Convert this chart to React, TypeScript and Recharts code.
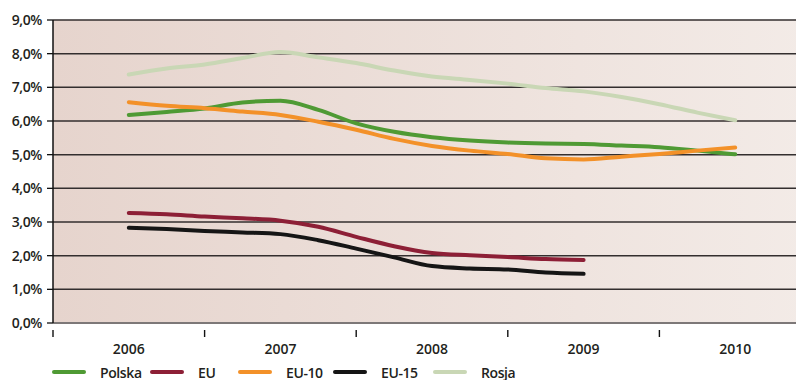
import React from "react";
import {
  LineChart,
  Line,
  XAxis,
  YAxis,
  CartesianGrid,
} from "recharts";

// quarterly readings, 2006 Q1 .. 2010 Q1
const quarters = [
  2006, 2006.25, 2006.5, 2006.75, 2007, 2007.25, 2007.5, 2007.75, 2008,
  2008.25, 2008.5, 2008.75, 2009, 2009.25, 2009.5, 2009.75, 2010,
];

const polska = [
  6.18, 6.27, 6.37, 6.55, 6.6, 6.33, 5.93, 5.68, 5.52, 5.42, 5.36, 5.33, 5.32,
  5.27, 5.22, 5.12, 5.01,
];
const eu = [
  3.27, 3.23, 3.16, 3.11, 3.04, 2.86, 2.56, 2.28, 2.08, 2.01, 1.96, 1.9, 1.87,
  null, null, null, null,
];
const eu10 = [
  6.56, 6.45, 6.38, 6.28, 6.18, 5.98, 5.74, 5.47, 5.26, 5.12, 5.02, 4.89, 4.86,
  4.94, 5.02, 5.12, 5.21,
];
const eu15 = [
  2.83, 2.79, 2.73, 2.69, 2.64, 2.46, 2.21, 1.95, 1.69, 1.62, 1.59, 1.5, 1.46,
  null, null, null, null,
];
const rosja = [
  7.38, 7.56, 7.68, 7.87, 8.05, 7.89, 7.72, 7.5, 7.32, 7.22, 7.11, 6.98, 6.88,
  6.71, 6.5, 6.25, 6.02,
];

const yearLabels = [2006, 2007, 2008, 2009, 2010];
const yTicks = [0, 1, 2, 3, 4, 5, 6, 7, 8, 9];

const SERIES = [
  { key: "polska", name: "Polska", color: "#4f9a34" },
  { key: "eu", name: "EU", color: "#8d1f36" },
  { key: "eu10", name: "EU-10", color: "#f39129" },
  { key: "eu15", name: "EU-15", color: "#151515" },
  { key: "rosja", name: "Rosja", color: "#c9d7b5" },
];

const FONT = "'Open Sans', 'DejaVu Sans Condensed', sans-serif";
const TEXT = "#231f20";
const FONT_SIZE = 14;
const FONT_WEIGHT = 600;

const data = quarters.map((q, i) => ({
  q,
  polska: polska[i],
  eu: eu[i],
  eu10: eu10[i],
  eu15: eu15[i],
  rosja: rosja[i],
}));

// labels sit on whole years, short tick marks on the half-year boundaries
const xTicks = [2005.5, ...yearLabels.flatMap((y) => [y, y + 0.5])];

const formatPct = (v: number) => v.toFixed(1).replace(".", ",") + "%";

function YearTick(props: any) {
  const { x, y, payload } = props;
  const v = payload.value as number;
  if (Number.isInteger(v)) {
    return (
      <text
        x={x}
        y={y + 23}
        textAnchor="middle"
        fontSize={FONT_SIZE}
        fontWeight={FONT_WEIGHT}
        fontFamily={FONT}
        fill={TEXT}
      >
        {v}
      </text>
    );
  }
  return <line x1={x} x2={x} y1={y - 1} y2={y + 6} stroke="#111" strokeWidth={1.4} />;
}

// legend line starts, in px from the page's left edge
const LEGEND_X = [52, 150, 238, 333, 433];

function ChartLegend() {
  return (
    <div style={{ position: "absolute", left: 0, top: 362, height: 20, width: 804 }}>
      {SERIES.map((s, i) => (
        <div
          key={s.key}
          style={{
            position: "absolute",
            left: LEGEND_X[i],
            top: 0,
            display: "flex",
            alignItems: "center",
            height: 20,
          }}
        >
          <span
            style={{
              display: "inline-block",
              width: 34,
              height: 4,
              borderRadius: 2,
              background: s.color,
              marginRight: 14,
            }}
          />
          <span
            style={{
              fontFamily: FONT,
              fontSize: FONT_SIZE,
              fontWeight: FONT_WEIGHT,
              color: TEXT,
              letterSpacing: -0.4,
            }}
          >
            {s.name}
          </span>
        </div>
      ))}
    </div>
  );
}

export default function App() {
  return (
    <div
      style={{
        position: "relative",
        margin: "-8px 0 0 -8px",
        width: 804,
        height: 380,
        overflow: "hidden",
        background: "#fff",
      }}
    >
      <LineChart
        width={812}
        height={380}
        data={data}
        margin={{ top: 20, right: 1, left: 0, bottom: 27 }}
      >
        <defs>
          <linearGradient id="plotBg" x1="0" y1="0" x2="1" y2="0">
            <stop offset="0%" stopColor="#e6d4cd" />
            <stop offset="100%" stopColor="#f3ebe7" />
          </linearGradient>
        </defs>
        <CartesianGrid
          vertical={false}
          fill="url(#plotBg)"
          stroke="#332e2e"
          strokeWidth={1.5}
          strokeOpacity={1}
        />
        <XAxis
          dataKey="q"
          type="number"
          domain={[2005.5, 2010.5]}
          ticks={xTicks}
          interval={0}
          tickLine={false}
          tick={<YearTick />}
          axisLine={{ stroke: "#7d7878", strokeWidth: 2 }}
          height={30}
        />
        <YAxis
          domain={[0, 9]}
          ticks={yTicks}
          interval={0}
          width={53}
          tickFormatter={formatPct}
          tickSize={6}
          tickMargin={5}
          tick={{
            fontSize: FONT_SIZE,
            fontWeight: FONT_WEIGHT,
            fontFamily: FONT,
            fill: TEXT,
            letterSpacing: -0.4,
          }}
          tickLine={{ stroke: "#111", strokeWidth: 1.3 }}
          axisLine={{ stroke: "#111", strokeWidth: 1.5 }}
        />
        {SERIES.map((s) => (
          <Line
            key={s.key}
            dataKey={s.key}
            name={s.name}
            type="monotone"
            stroke={s.color}
            strokeWidth={4}
            strokeLinecap="round"
            dot={false}
            activeDot={false}
            isAnimationActive={false}
          />
        ))}
      </LineChart>
      <ChartLegend />
    </div>
  );
}
